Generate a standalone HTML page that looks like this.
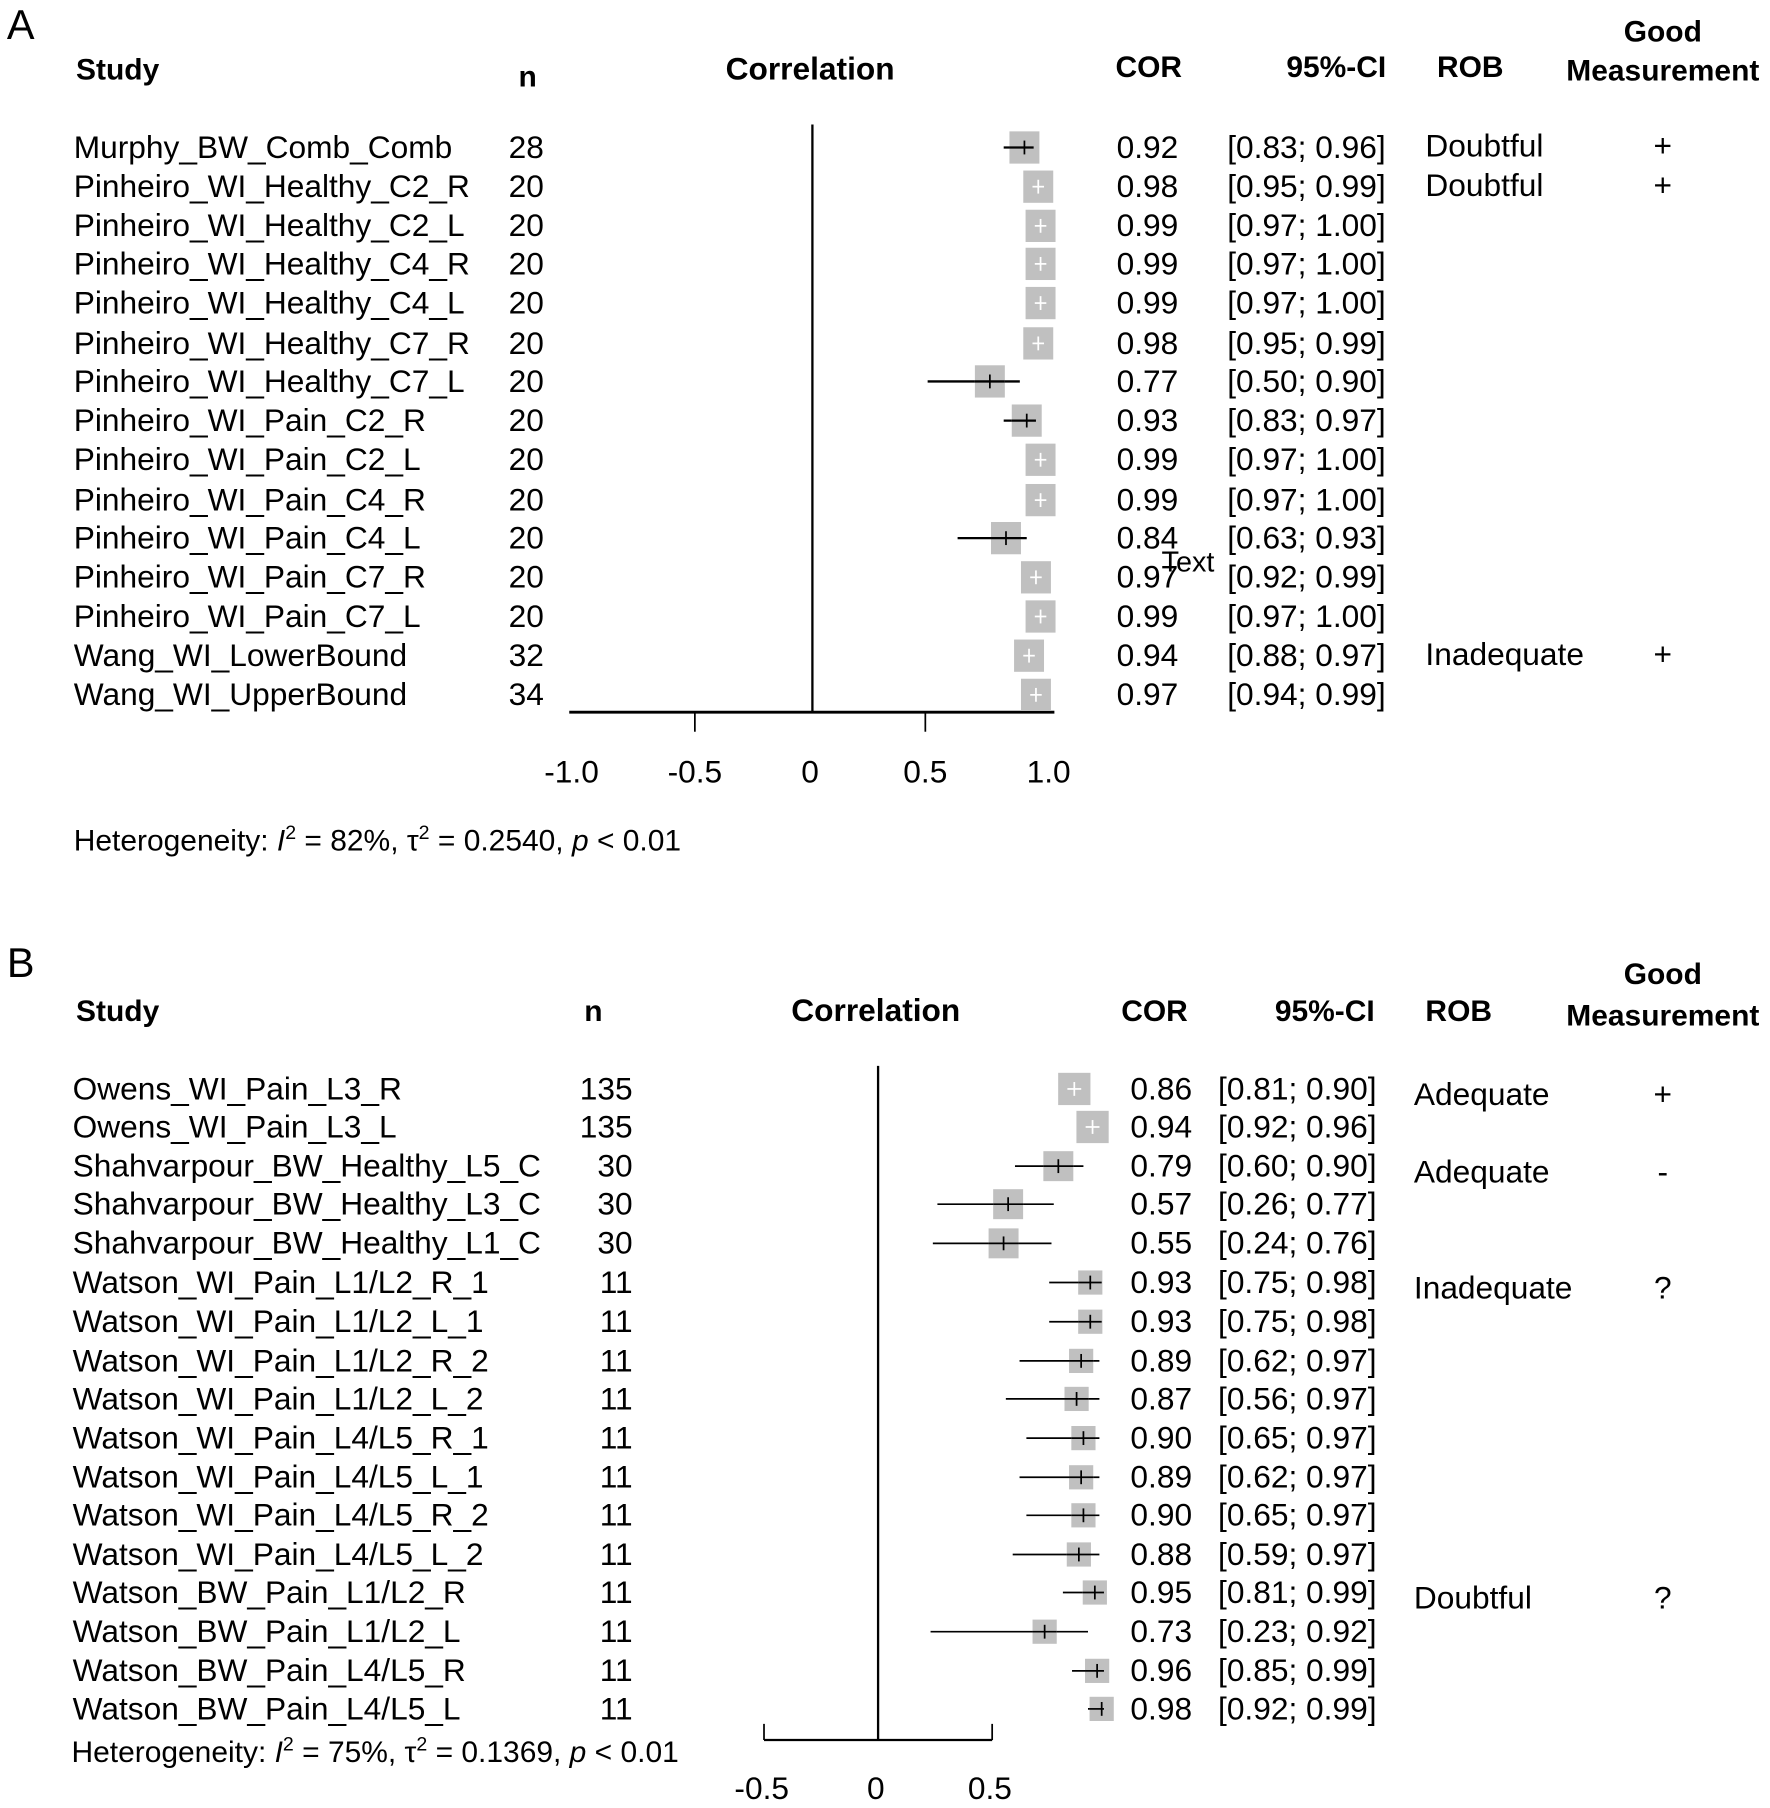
<!DOCTYPE html>
<html><head><meta charset="utf-8"><style>
html,body{margin:0;padding:0;background:#fff}
svg{display:block}
text{font-family:"Liberation Sans",Arial,sans-serif;fill:#000}
.h{font-weight:bold;font-size:26px}
.r{font-size:27.5px}
</style></head><body>
<svg id="s" width="1770" height="1808" viewBox="0 0 1536 1569" xmlns="http://www.w3.org/2000/svg">
<rect width="1536" height="1569" fill="#fff"/>
<text x="6" y="34" style="font-size:36px">A</text>
<text class="h" x="66" y="69">Study</text>
<text class="h" x="450" y="75">n</text>
<text class="h" x="703" y="69" text-anchor="middle" style="font-size:27.5px">Correlation</text>
<text class="h" x="968" y="67">COR</text>
<text class="h" x="1203" y="67" text-anchor="end">95%-CI</text>
<text class="h" x="1247" y="67">ROB</text>
<text class="h" x="1443" y="36" text-anchor="middle">Good</text>
<text class="h" x="1443" y="70" text-anchor="middle">Measurement</text>
<line x1="705" y1="108" x2="705" y2="618" stroke="#000" stroke-width="2"/>
<line x1="494" y1="618" x2="915" y2="618" stroke="#000" stroke-width="2.5"/>
<line x1="603" y1="618" x2="603" y2="635" stroke="#000" stroke-width="1.5"/>
<line x1="803" y1="618" x2="803" y2="635" stroke="#000" stroke-width="1.5"/>
<g class="r" text-anchor="middle"><text x="496" y="679">-1.0</text><text x="603" y="679">-0.5</text><text x="703" y="679">0</text><text x="803" y="679">0.5</text><text x="910" y="679">1.0</text></g>
<text x="64" y="738" style="font-size:26px">Heterogeneity: <tspan font-style="italic">I</tspan><tspan dy="-10" style="font-size:17px">2</tspan><tspan dy="10"> = 82%, τ</tspan><tspan dy="-10" style="font-size:17px">2</tspan><tspan dy="10"> = 0.2540, </tspan><tspan font-style="italic">p</tspan> &lt; 0.01</text>
<text x="1008" y="496" style="font-size:25px">Text</text>

<text x="6" y="848" style="font-size:36px">B</text>
<text class="h" x="66" y="886">Study</text>
<text class="h" x="507" y="886">n</text>
<text class="h" x="760" y="886" text-anchor="middle" style="font-size:27.5px">Correlation</text>
<text class="h" x="973" y="886">COR</text>
<text class="h" x="1193" y="886" text-anchor="end">95%-CI</text>
<text class="h" x="1237" y="886">ROB</text>
<text class="h" x="1443" y="854" text-anchor="middle">Good</text>
<text class="h" x="1443" y="890" text-anchor="middle">Measurement</text>
<line x1="762" y1="925" x2="762" y2="1510" stroke="#000" stroke-width="2"/>
<line x1="663" y1="1510" x2="861" y2="1510" stroke="#000" stroke-width="2"/>
<line x1="663" y1="1496" x2="663" y2="1510" stroke="#000" stroke-width="1.5"/>
<line x1="762" y1="1496" x2="762" y2="1510" stroke="#000" stroke-width="1.5"/>
<line x1="861" y1="1496" x2="861" y2="1510" stroke="#000" stroke-width="1.5"/>
<g class="r" text-anchor="middle"><text x="661" y="1561">-0.5</text><text x="760" y="1561">0</text><text x="859" y="1561">0.5</text></g>
<text x="62" y="1529" style="font-size:26px">Heterogeneity: <tspan font-style="italic">I</tspan><tspan dy="-10" style="font-size:17px">2</tspan><tspan dy="10"> = 75%, τ</tspan><tspan dy="-10" style="font-size:17px">2</tspan><tspan dy="10"> = 0.1369, </tspan><tspan font-style="italic">p</tspan> &lt; 0.01</text>
<g id="rows"></g>
</svg>
<script>
var NS="http://www.w3.org/2000/svg",g=document.getElementById("rows");
function el(t,a,txt){var e=document.createElementNS(NS,t);for(var k in a)e.setAttribute(k,a[k]);if(txt!=null)e.textContent=txt;g.appendChild(e);return e;}
var A=[
["Murphy_BW_Comb_Comb","28",0.92,"0.92","[0.83; 0.96]",0.83,0.96,"Doubtful","+"],
["Pinheiro_WI_Healthy_C2_R","20",0.98,"0.98","[0.95; 0.99]",0.95,0.99,"Doubtful","+"],
["Pinheiro_WI_Healthy_C2_L","20",0.99,"0.99","[0.97; 1.00]",0.97,1.0,"",""],
["Pinheiro_WI_Healthy_C4_R","20",0.99,"0.99","[0.97; 1.00]",0.97,1.0,"",""],
["Pinheiro_WI_Healthy_C4_L","20",0.99,"0.99","[0.97; 1.00]",0.97,1.0,"",""],
["Pinheiro_WI_Healthy_C7_R","20",0.98,"0.98","[0.95; 0.99]",0.95,0.99,"",""],
["Pinheiro_WI_Healthy_C7_L","20",0.77,"0.77","[0.50; 0.90]",0.50,0.90,"",""],
["Pinheiro_WI_Pain_C2_R","20",0.93,"0.93","[0.83; 0.97]",0.83,0.97,"",""],
["Pinheiro_WI_Pain_C2_L","20",0.99,"0.99","[0.97; 1.00]",0.97,1.0,"",""],
["Pinheiro_WI_Pain_C4_R","20",0.99,"0.99","[0.97; 1.00]",0.97,1.0,"",""],
["Pinheiro_WI_Pain_C4_L","20",0.84,"0.84","[0.63; 0.93]",0.63,0.93,"",""],
["Pinheiro_WI_Pain_C7_R","20",0.97,"0.97","[0.92; 0.99]",0.92,0.99,"",""],
["Pinheiro_WI_Pain_C7_L","20",0.99,"0.99","[0.97; 1.00]",0.97,1.0,"",""],
["Wang_WI_LowerBound","32",0.94,"0.94","[0.88; 0.97]",0.88,0.97,"Inadequate","+"],
["Wang_WI_UpperBound","34",0.97,"0.97","[0.94; 0.99]",0.94,0.99,"",""]];
var Ay=[128,162,196,229,263,298,331,365,399,434,467,501,535,569,603];
A.forEach(function(d,i){var y=Ay[i];
 el("text",{x:64,y:y+9,"class":"r"},d[0]);
 el("text",{x:472,y:y+9,"class":"r","text-anchor":"end"},d[1]);
 el("text",{x:969,y:y+9,"class":"r"},d[3]);
 el("text",{x:1065,y:y+9,"class":"r"},d[4]);
 if(d[7])el("text",{x:1237,y:y+8,"class":"r"},d[7]);
 if(d[8])el("text",{x:1443,y:y+8,"class":"r","text-anchor":"middle"},d[8]);
 var X=function(r){return 705+200*r;};
 var c=X(d[2]),lo=X(d[5]),hi=Math.min(X(d[6]),915);var s=26;
 var inside=(lo>c-s/2&&hi<c+s/2);
 el("line",{x1:lo,y1:y,x2:hi,y2:y,stroke:"#000","stroke-width":2});
 el("rect",{x:c-s/2,y:y-s/2-1,width:s,height:s+2,fill:"#c0c0c0"});
 var col=inside?"#fff":"#000";
 el("line",{x1:inside?c-5:Math.max(lo,c-s/2),y1:y,x2:inside?c+5:Math.min(hi,c+s/2),y2:y,stroke:col,"stroke-width":inside?1.5:2});
 el("line",{x1:c,y1:y-6,x2:c,y2:y+6,stroke:col,"stroke-width":1.5});
});
var B=[
["Owens_WI_Pain_L3_R","135",0.86,"[0.81; 0.90]",0.81,0.90,"Adequate","+",28],
["Owens_WI_Pain_L3_L","135",0.94,"[0.92; 0.96]",0.92,0.96,"","",28],
["Shahvarpour_BW_Healthy_L5_C","30",0.79,"[0.60; 0.90]",0.60,0.90,"Adequate","-",26],
["Shahvarpour_BW_Healthy_L3_C","30",0.57,"[0.26; 0.77]",0.26,0.77,"","",26],
["Shahvarpour_BW_Healthy_L1_C","30",0.55,"[0.24; 0.76]",0.24,0.76,"","",26],
["Watson_WI_Pain_L1/L2_R_1","11",0.93,"[0.75; 0.98]",0.75,0.98,"Inadequate","?",21],
["Watson_WI_Pain_L1/L2_L_1","11",0.93,"[0.75; 0.98]",0.75,0.98,"","",21],
["Watson_WI_Pain_L1/L2_R_2","11",0.89,"[0.62; 0.97]",0.62,0.97,"","",21],
["Watson_WI_Pain_L1/L2_L_2","11",0.87,"[0.56; 0.97]",0.56,0.97,"","",21],
["Watson_WI_Pain_L4/L5_R_1","11",0.90,"[0.65; 0.97]",0.65,0.97,"","",21],
["Watson_WI_Pain_L4/L5_L_1","11",0.89,"[0.62; 0.97]",0.62,0.97,"","",21],
["Watson_WI_Pain_L4/L5_R_2","11",0.90,"[0.65; 0.97]",0.65,0.97,"","",21],
["Watson_WI_Pain_L4/L5_L_2","11",0.88,"[0.59; 0.97]",0.59,0.97,"","",21],
["Watson_BW_Pain_L1/L2_R","11",0.95,"[0.81; 0.99]",0.81,0.99,"Doubtful","?",21],
["Watson_BW_Pain_L1/L2_L","11",0.73,"[0.23; 0.92]",0.23,0.92,"","",21],
["Watson_BW_Pain_L4/L5_R","11",0.96,"[0.85; 0.99]",0.85,0.99,"","",21],
["Watson_BW_Pain_L4/L5_L","11",0.98,"[0.92; 0.99]",0.92,0.99,"","",21]];
var By=[945,978,1012,1045,1079,1113,1147,1181,1214,1248,1282,1315,1349,1382,1416,1450,1483];
B.forEach(function(d,i){var y=By[i];
 el("text",{x:63,y:y+9,"class":"r"},d[0]);
 el("text",{x:549,y:y+9,"class":"r","text-anchor":"end"},d[1]);
 el("text",{x:981,y:y+9,"class":"r"},d[2].toFixed(2));
 el("text",{x:1057,y:y+9,"class":"r"},d[3]);
 if(d[6])el("text",{x:1227,y:y+14,"class":"r"},d[6]);
 if(d[7])el("text",{x:1443,y:y+14,"class":"r","text-anchor":"middle"},d[7]);
 var X=function(r){return 762+198*r;};
 var c=X(d[2]),lo=X(d[4]),hi=X(d[5]),s=d[8];
 var inside=(lo>c-s/2&&hi<c+s/2);
 el("line",{x1:lo,y1:y,x2:hi,y2:y,stroke:"#000","stroke-width":1.5});
 el("rect",{x:c-s/2,y:y-s/2,width:s,height:s,fill:"#c0c0c0"});
 var col=inside?"#fff":"#000";
 el("line",{x1:inside?c-6:Math.max(lo,c-s/2),y1:y,x2:inside?c+6:Math.min(hi,c+s/2),y2:y,stroke:col,"stroke-width":1.5});
 el("line",{x1:c,y1:y-6,x2:c,y2:y+6,stroke:col,"stroke-width":1.5});
});
</script>
</body></html>
